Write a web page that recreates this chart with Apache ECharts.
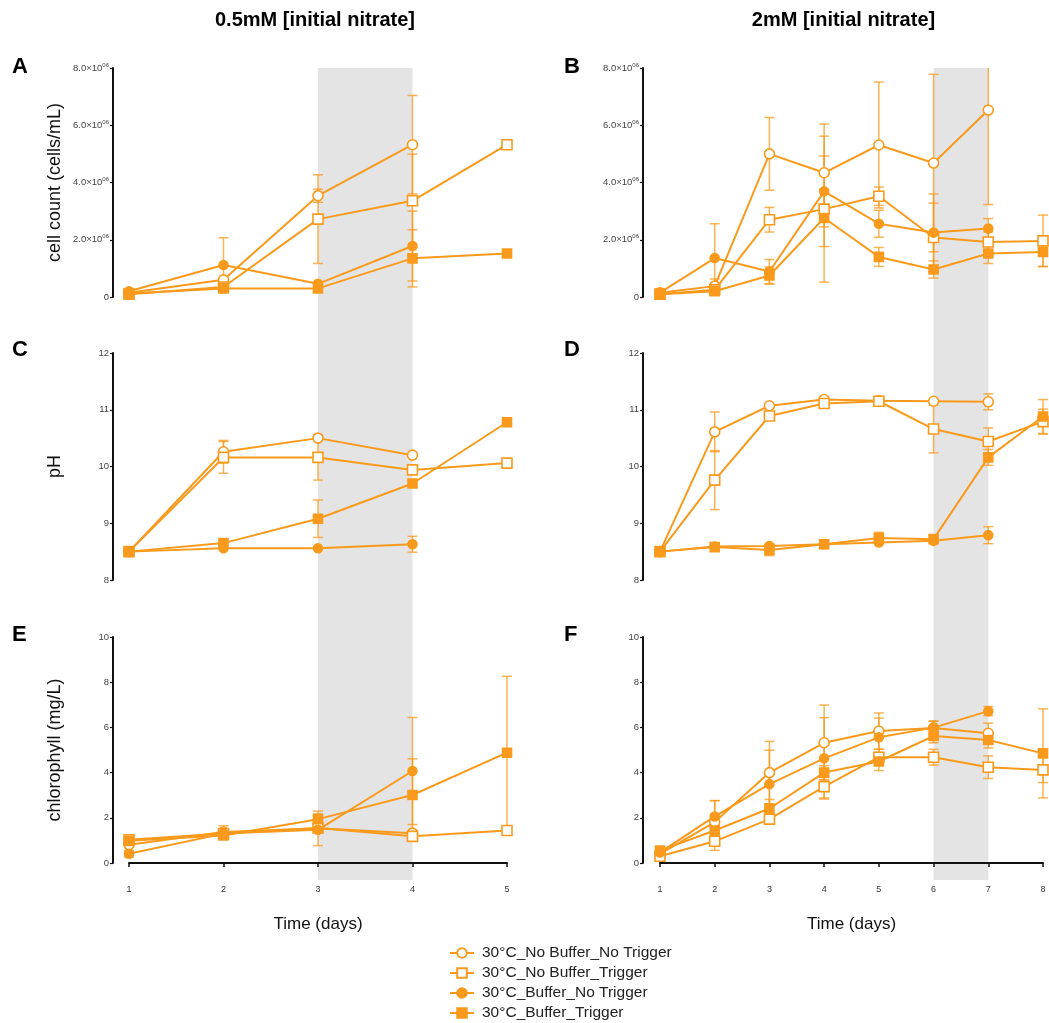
<!DOCTYPE html>
<html><head><meta charset="utf-8">
<script src="https://cdn.jsdelivr.net/npm/echarts@6/dist/echarts.min.js"></script>
<style>html,body{margin:0;padding:0;background:#fff}#c{width:1049px;height:1023px}</style>
</head><body><div id="c"></div>
<script>
// ---------- data ----------
const daysLeft = [1, 2, 3, 4, 5];
const daysRight = [1, 2, 3, 4, 5, 6, 7, 8];
const seriesNames = ['30°C_No Buffer_No Trigger', '30°C_No Buffer_Trigger', '30°C_Buffer_No Trigger', '30°C_Buffer_Trigger'];
const headers = ['0.5mM [initial nitrate]', '2mM [initial nitrate]'];
const panelLetters = ['A', 'B', 'C', 'D', 'E', 'F'];
const yTitles = ['cell count (cells/mL)', 'pH', 'chlorophyll (mg/L)'];
const xTitle = 'Time (days)';
const shadeLeft = [3, 4];
const shadeRight = [6, 7];

// Panel A: cell count (x10^6 cells/mL), 0.5 mM
const A_nbnt = [0.15, 0.6, 3.54, 5.32, null];
const A_nbnt_sd = [0, 0, 0.23, 1.72, null];
const A_nbt = [0.1, 0.35, 2.72, 3.36, 5.32];
const A_nbt_sd = [0, 0, 1.55, 1.63, 0];
const A_bnt = [0.2, 1.12, 0.46, 1.78, null];
const A_bnt_sd = [0, 0.95, 0, 1.22, null];
const A_bt = [0.12, 0.3, 0.3, 1.35, 1.52];
const A_bt_sd = [0, 0, 0, 1.0, 0];

// Panel B: cell count (x10^6 cells/mL), 2 mM
const B_nbnt = [0.15, 0.38, 5.0, 4.34, 5.31, 4.68, 6.53, null];
const B_nbnt_sd = [0, 0.25, 1.27, 1.7, 2.2, 3.1, 3.3, null];
const B_nbt = [0.1, 0.25, 2.7, 3.07, 3.52, 2.08, 1.92, 1.96];
const B_nbt_sd = [0, 0, 0.43, 2.55, 0.32, 1.2, 0.35, 0.9];
const B_bnt = [0.15, 1.36, 0.89, 3.69, 2.56, 2.25, 2.39, null];
const B_bnt_sd = [0, 1.2, 0.42, 1.24, 0.47, 1.35, 0.35, null];
const B_bt = [0.1, 0.2, 0.75, 2.76, 1.4, 0.96, 1.52, 1.57];
const B_bt_sd = [0, 0, 0.3, 1.0, 0.33, 0.3, 0.35, 0.5];

// Panel C: pH, 0.5 mM
const C_nbnt = [8.5, 10.26, 10.5, 10.2, null];
const C_nbnt_sd = [0, 0.2, 0, 0, null];
const C_nbt = [8.5, 10.16, 10.16, 9.94, 10.06];
const C_nbt_sd = [0, 0.28, 0.4, 0, 0];
const C_bnt = [8.5, 8.56, 8.56, 8.63, null];
const C_bnt_sd = [0, 0, 0, 0.14, null];
const C_bt = [8.5, 8.65, 9.08, 9.7, 10.78];
const C_bt_sd = [0, 0, 0.33, 0, 0.07];

// Panel D: pH, 2 mM
const D_nbnt = [8.5, 10.61, 11.07, 11.18, 11.16, 11.15, 11.14, null];
const D_nbnt_sd = [0, 0.35, 0, 0, 0, 0, 0.14, null];
const D_nbt = [8.5, 9.76, 10.89, 11.11, 11.15, 10.66, 10.44, 10.79];
const D_nbt_sd = [0, 0.52, 0, 0, 0, 0.42, 0.24, 0.22];
const D_bnt = [8.5, 8.59, 8.6, 8.63, 8.66, 8.69, 8.79, null];
const D_bnt_sd = [0, 0, 0, 0, 0, 0, 0.15, null];
const D_bt = [8.5, 8.58, 8.53, 8.63, 8.74, 8.72, 10.16, 10.88];
const D_bt_sd = [0, 0, 0.1, 0, 0.1, 0, 0.14, 0.3];

// Panel E: chlorophyll (mg/L), 0.5 mM
const E_nbnt = [0.81, 1.37, 1.54, 1.32, null];
const E_nbnt_sd = [0, 0.28, 0, 0, null];
const E_nbt = [1.03, 1.3, 1.55, 1.18, 1.44];
const E_nbt_sd = [0, 0, 0, 0, 0];
const E_bnt = [0.41, 1.3, 1.47, 4.07, null];
const E_bnt_sd = [0.15, 0, 0.7, 2.37, null];
const E_bt = [0.98, 1.22, 1.94, 3.01, 4.88];
const E_bt_sd = [0.15, 0, 0.36, 1.6, 3.38];

// Panel F: chlorophyll (mg/L), 2 mM
const F_nbnt = [0.4, 1.81, 4.0, 5.32, 5.84, 5.97, 5.74, null];
const F_nbnt_sd = [0.1, 0.95, 1.38, 1.67, 0.8, 0.3, 0.45, null];
const F_nbt = [0.3, 0.96, 1.94, 3.38, 4.68, 4.68, 4.24, 4.12];
const F_nbt_sd = [0.1, 0.4, 0.15, 0.5, 0.35, 0.35, 0.5, 0.56];
const F_bnt = [0.47, 2.06, 3.49, 4.63, 5.56, 5.99, 6.72, null];
const F_bnt_sd = [0.1, 0.7, 1.5, 1.8, 0.85, 0.3, 0.2, null];
const F_bt = [0.55, 1.44, 2.41, 4.0, 4.49, 5.62, 5.44, 4.85];
const F_bt_sd = [0.1, 0.2, 0.4, 0.3, 0.4, 0.3, 0.35, 1.97];

// ---------- styling / layout ----------
const ORANGE = '#F99A1C';
const ERR = 'rgba(249,154,28,0.75)';
const FONT = '"Liberation Sans", Arial, sans-serif';
const symbols = ['circle', 'rect', 'circle', 'rect'];
const filled = [false, false, true, true];
const symSize = [10, 10, 9, 9];

const panels = [
  { days: daysLeft,  vals: [A_nbnt, A_nbt, A_bnt, A_bt], sds: [A_nbnt_sd, A_nbt_sd, A_bnt_sd, A_bt_sd] },
  { days: daysRight, vals: [B_nbnt, B_nbt, B_bnt, B_bt], sds: [B_nbnt_sd, B_nbt_sd, B_bnt_sd, B_bt_sd] },
  { days: daysLeft,  vals: [C_nbnt, C_nbt, C_bnt, C_bt], sds: [C_nbnt_sd, C_nbt_sd, C_bnt_sd, C_bt_sd] },
  { days: daysRight, vals: [D_nbnt, D_nbt, D_bnt, D_bt], sds: [D_nbnt_sd, D_nbt_sd, D_bnt_sd, D_bt_sd] },
  { days: daysLeft,  vals: [E_nbnt, E_nbt, E_bnt, E_bt], sds: [E_nbnt_sd, E_nbt_sd, E_bnt_sd, E_bt_sd] },
  { days: daysRight, vals: [F_nbnt, F_nbt, F_bnt, F_bt], sds: [F_nbnt_sd, F_nbt_sd, F_bnt_sd, F_bt_sd] }
];

const colLeft = [129, 660];
const colWidth = [378, 383];
const rowTop = [68, 353, 637];
const rowHeight = [229, 227, 226];
const yOffset = [16, 17];
const xOffset = 17;

const yRange = [
  { min: 0, max: 8, interval: 2 },
  { min: 8, max: 12, interval: 1 },
  { min: 0, max: 10, interval: 2 }
];

function cellFmt(v) {
  if (v === 0) return '0';
  return '{m|' + v.toFixed(1) + '×10}{s|06}';
}

const grids = [], xAxes = [], yAxes = [], series = [];
panels.forEach((p, i) => {
  const row = Math.floor(i / 2), col = i % 2;
  grids.push({ left: colLeft[col], width: colWidth[col], top: rowTop[row], height: rowHeight[row], containLabel: false });
  const xMax = col === 0 ? 5 : 8;
  xAxes.push({
    type: 'value', gridIndex: i, min: 1, max: xMax, interval: 1,
    show: row === 2, offset: row === 2 ? xOffset : 0,
    axisLine: { show: true, lineStyle: { color: '#111', width: 2 } },
    axisTick: { show: true, length: 4, lineStyle: { color: '#111', width: 1.5 } },
    axisLabel: { fontSize: 9, color: '#333', margin: 5, fontFamily: FONT },
    splitLine: { show: false },
    name: row === 2 ? xTitle : '', nameLocation: 'middle', nameGap: 36,
    nameTextStyle: { fontSize: 17, color: '#111', fontFamily: FONT }
  });
  const yr = yRange[row];
  yAxes.push({
    type: 'value', gridIndex: i, min: yr.min, max: yr.max, interval: yr.interval,
    offset: yOffset[col],
    axisLine: { show: true, lineStyle: { color: '#111', width: 2 } },
    axisTick: { show: true, length: 3, lineStyle: { color: '#111', width: 1.2 } },
    axisLabel: {
      fontSize: 9.5, color: '#444', margin: 4, fontFamily: FONT,
      formatter: row === 0 ? cellFmt : null,
      rich: {
        m: { fontSize: 9.5, color: '#444', fontFamily: FONT },
        s: { fontSize: 6, color: '#444', fontFamily: FONT, verticalAlign: 'top', padding: [0, 0, 6, 0] }
      }
    },
    splitLine: { show: false },
    name: col === 0 ? yTitles[row] : '', nameLocation: 'middle', nameGap: 49, nameRotate: 90,
    nameTextStyle: { fontSize: 18, color: '#111', fontFamily: FONT }
  });
  p.vals.forEach((vals, k) => {
    const lineData = [], errData = [];
    p.days.forEach((d, j) => {
      const v = vals[j];
      if (v === null || v === undefined) return;
      lineData.push([d, v]);
      const sd = p.sds[k][j];
      if (sd) errData.push([d, v - sd, v + sd]);
    });
    series.push({
      type: 'custom', name: 'err' + i + '_' + k, xAxisIndex: i, yAxisIndex: i, z: 2,
      silent: true, data: errData, encode: { x: 0, y: [1, 2] },
      renderItem: function (params, api) {
        const x = api.value(0), lo = api.value(1), hi = api.value(2);
        const cs = params.coordSys;
        const pLo = api.coord([x, lo]), pHi = api.coord([x, hi]);
        const top = Math.max(pHi[1], cs.y), bot = Math.min(pLo[1], cs.y + cs.height);
        const st = { stroke: ERR, lineWidth: 1.5 };
        const ch = [{ type: 'line', shape: { x1: pLo[0], y1: bot, x2: pLo[0], y2: top }, style: st }];
        if (pHi[1] >= cs.y) ch.push({ type: 'line', shape: { x1: pLo[0] - 5, y1: top, x2: pLo[0] + 5, y2: top }, style: st });
        if (pLo[1] <= cs.y + cs.height) ch.push({ type: 'line', shape: { x1: pLo[0] - 5, y1: bot, x2: pLo[0] + 5, y2: bot }, style: st });
        return { type: 'group', children: ch };
      }
    });
    series.push({
      type: 'line', name: seriesNames[k], xAxisIndex: i, yAxisIndex: i, z: 3,
      data: lineData, symbol: symbols[k], symbolSize: symSize[k], showSymbol: true,
      lineStyle: { color: ORANGE, width: 2 },
      itemStyle: { color: filled[k] ? ORANGE : '#fff', borderColor: ORANGE, borderWidth: 1.6 },
      emphasis: { disabled: true }
    });
  });
});

const chart = echarts.init(document.getElementById('c'), null, { renderer: 'canvas' });
chart.setOption({
  animation: false,
  backgroundColor: '#fff',
  grid: grids, xAxis: xAxes, yAxis: yAxes, series: series,
  legend: {
    data: seriesNames.map(n => ({ name: n })),
    orient: 'vertical', left: 449, top: 945, padding: 0, height: 90,
    itemWidth: 24, itemHeight: 12, itemGap: 4,
    textStyle: { fontSize: 15.5, color: '#222', fontFamily: FONT, padding: [0, 0, 0, 3] },
    selectedMode: false
  }
});

// shaded bands + texts (positions from the library's scales)
function px(grid, x, y) { return chart.convertToPixel({ xAxisIndex: grid, yAxisIndex: grid }, [x, y]); }
const g = [];
[[0, 4, shadeLeft], [1, 5, shadeRight]].forEach(([topGrid, botGrid, sh]) => {
  const a = px(botGrid, sh[0], 0), b = px(botGrid, sh[1], 0);
  const t = px(topGrid, sh[0], yRange[0].max);
  g.push({ type: 'rect', z: -10, silent: true,
    shape: { x: a[0], y: t[1], width: b[0] - a[0], height: a[1] + xOffset - t[1] },
    style: { fill: '#E4E4E4' } });
});
const headerX = [colLeft[0] + colWidth[0] / 2 - 3, colLeft[1] + colWidth[1] / 2 - 8];
headers.forEach((h, c) => g.push({ type: 'text', z: 10, style: {
  text: h, x: headerX[c], y: 20, font: 'bold 20px ' + FONT, fill: '#000',
  textAlign: 'center', textVerticalAlign: 'middle', align: 'center', verticalAlign: 'middle' } }));
const letterX = [12, 564];
const letterY = [67, 350, 635];
panelLetters.forEach((L, i) => g.push({ type: 'text', z: 10, style: {
  text: L, x: letterX[i % 2], y: letterY[Math.floor(i / 2)], font: 'bold 22px ' + FONT, fill: '#000',
  textAlign: 'left', textVerticalAlign: 'middle', align: 'left', verticalAlign: 'middle' } }));
chart.setOption({ graphic: g });
</script>
</body></html>
